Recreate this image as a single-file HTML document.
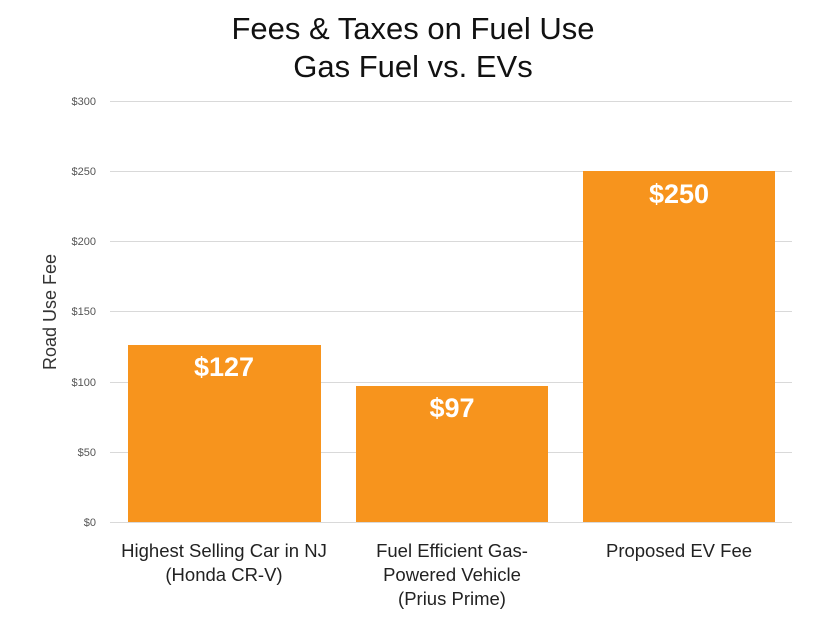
<!DOCTYPE html>
<html><head><style>
body{margin:0;background:#fff;}
svg{display:block;font-family:"Liberation Sans",sans-serif;}
</style></head><body>
<svg width="826" height="620" viewBox="0 0 826 620">
<text x="413" y="39" text-anchor="middle" font-size="31" fill="#111">Fees &amp; Taxes on Fuel Use</text>
<text x="413" y="77" text-anchor="middle" font-size="31" fill="#111">Gas Fuel vs. EVs</text>
<g stroke="#d9d9d9" stroke-width="1">
<line x1="110" x2="792" y1="101.5" y2="101.5"/>
<line x1="110" x2="792" y1="171.5" y2="171.5"/>
<line x1="110" x2="792" y1="241.5" y2="241.5"/>
<line x1="110" x2="792" y1="311.5" y2="311.5"/>
<line x1="110" x2="792" y1="382.5" y2="382.5"/>
<line x1="110" x2="792" y1="452.5" y2="452.5"/>
<line x1="110" x2="792" y1="522.5" y2="522.5"/>
</g>
<g font-size="11" fill="#555" text-anchor="end">
<text x="96" y="105">$300</text>
<text x="96" y="175">$250</text>
<text x="96" y="245">$200</text>
<text x="96" y="315">$150</text>
<text x="96" y="386">$100</text>
<text x="96" y="456">$50</text>
<text x="96" y="526">$0</text>
</g>
<text transform="translate(56,312) rotate(-90)" text-anchor="middle" font-size="18" fill="#333">Road Use Fee</text>
<g fill="#F7941D">
<rect x="128" y="345" width="193" height="177"/>
<rect x="356" y="386" width="192" height="136"/>
<rect x="583" y="171" width="192" height="351"/>
</g>
<g fill="#fff" font-size="27" font-weight="bold" text-anchor="middle">
<text x="224" y="376">$127</text>
<text x="452" y="417">$97</text>
<text x="679" y="203">$250</text>
</g>
<g font-size="18.5" fill="#222" text-anchor="middle">
<text x="224" y="557">Highest Selling Car in NJ</text>
<text x="224" y="581">(Honda CR-V)</text>
<text x="452" y="557">Fuel Efficient Gas-</text>
<text x="452" y="581">Powered Vehicle</text>
<text x="452" y="605">(Prius Prime)</text>
<text x="679" y="557">Proposed EV Fee</text>
</g>
</svg>
</body></html>
